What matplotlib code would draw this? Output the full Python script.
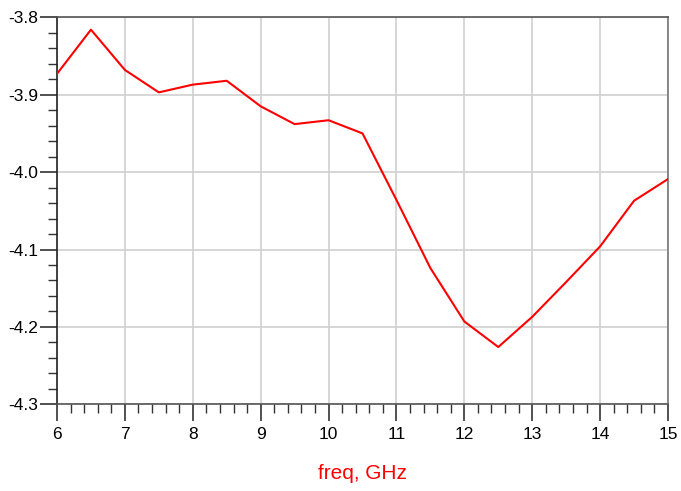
import numpy as np
import matplotlib
matplotlib.use("Agg")
import matplotlib.pyplot as plt
from matplotlib.ticker import MultipleLocator, FormatStrFormatter

# datos
freq = [6.0, 6.5, 7.0, 7.5, 8.0, 8.5, 9.0, 9.5, 10.0, 10.5,
        11.0, 11.5, 12.0, 12.5, 13.0, 13.5, 14.0, 14.5, 15.0]
valores = [-3.873, -3.816, -3.868, -3.897, -3.887, -3.882, -3.915, -3.938, -3.933, -3.950,
           -4.036, -4.124, -4.193, -4.226, -4.187, -4.142, -4.096, -4.037, -4.009]
xticks = [6, 7, 8, 9, 10, 11, 12, 13, 14, 15]
yticks = [-3.8, -3.9, -4.0, -4.1, -4.2, -4.3]

plt.rcParams['font.family'] = ['Liberation Sans', 'DejaVu Sans']

fig = plt.figure(figsize=(6.81, 4.91), dpi=100)
ax = fig.add_axes([57 / 681, 1 - 404.3 / 491, (668 - 57) / 681, (404.3 - 17.3) / 491])

ax.plot(freq, valores, color='#ff0000', linewidth=1.5, zorder=3)

ax.set_xlim(6, 15)
ax.set_ylim(-4.3, -3.8)
ax.set_xticks(xticks)
ax.set_yticks(yticks)
ax.yaxis.set_major_formatter(FormatStrFormatter('%.1f'))
ax.xaxis.set_minor_locator(MultipleLocator(0.2))
ax.yaxis.set_minor_locator(MultipleLocator(0.02))

ax.grid(True, which='major', color='#d0d0d0', linewidth=1.2)
ax.set_axisbelow(True)

ax.tick_params(which='major', direction='out', length=12.5, width=1.2, color='#333333',
               labelsize=12.5, labelcolor='black')
ax.tick_params(axis='x', which='major', pad=4)
ax.tick_params(axis='y', which='major', pad=1)
ax.tick_params(which='minor', direction='out', length=6.5, width=1.0, color='#333333')

ax.spines['left'].set_color('#222222')
ax.spines['bottom'].set_color('#555555')
ax.spines['top'].set_color('#555555')
ax.spines['right'].set_color('#777777')
for s in ax.spines.values():
    s.set_linewidth(1.2)

ax.set_xlabel('freq, GHz', color='#ff0000', fontsize=15, labelpad=16)

fig.savefig('out.png', dpi=100)
